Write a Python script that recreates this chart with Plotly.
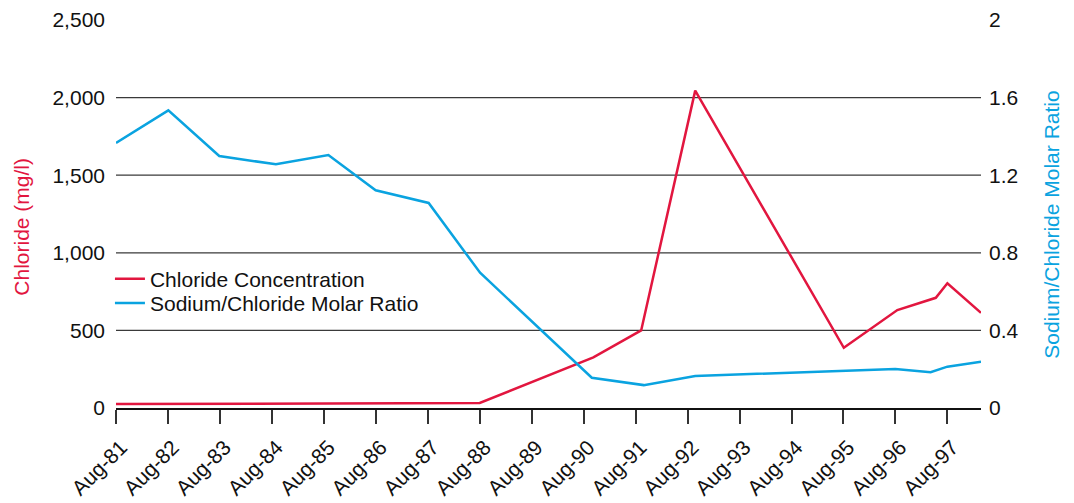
import plotly.graph_objects as go

# ---- data ----
tick_labels = ["Aug-81", "Aug-82", "Aug-83", "Aug-84", "Aug-85", "Aug-86", "Aug-87", "Aug-88",
               "Aug-89", "Aug-90", "Aug-91", "Aug-92", "Aug-93", "Aug-94", "Aug-95", "Aug-96", "Aug-97"]
tick_years = [1981.583 + i for i in range(len(tick_labels))]

chloride_x = [1981.583, 1983.58, 1985.58, 1988.583, 1990.77, 1991.69, 1992.73, 1995.59, 1996.62, 1997.36, 1997.583, 1998.23]
chloride_y = [25, 27, 29, 32, 326, 500, 2045, 388, 631, 710, 804, 613]

ratio_x = [1981.583, 1982.59, 1983.57, 1984.66, 1985.67, 1986.58, 1987.60, 1988.59, 1990.74, 1991.74,
           1992.73, 1995.58, 1996.58, 1997.26, 1997.583, 1998.23]
ratio_y = [1.366, 1.534, 1.299, 1.256, 1.304, 1.122, 1.057, 0.697, 0.156, 0.118,
           0.165, 0.190, 0.201, 0.184, 0.213, 0.238]

left_ticks = [0, 500, 1000, 1500, 2000, 2500]
right_ticks = [0, 0.4, 0.8, 1.2, 1.6, 2]
grid_vals = [500, 1000, 1500, 2000]

RED = "#E2163F"
BLUE = "#0AA3E0"
TEXT = "#111111"
FONT = "Liberation Sans, Arial, sans-serif"
FS = 21

fig = go.Figure()
fig.add_trace(go.Scatter(x=chloride_x, y=chloride_y, mode="lines", name="Chloride Concentration",
                         line=dict(color=RED, width=2.5), yaxis="y", legend="legend"))
fig.add_trace(go.Scatter(x=ratio_x, y=ratio_y, mode="lines", name="Sodium/Chloride Molar Ratio",
                         line=dict(color=BLUE, width=2.5), yaxis="y2", legend="legend2"))

for v in grid_vals:
    fig.add_shape(type="line", xref="paper", x0=0, x1=1, yref="y", y0=v, y1=v,
                  line=dict(color="#3a3a3a", width=1.2), layer="below")

fig.add_annotation(text="Chloride (mg/l)", xref="paper", yref="paper", x=-0.1095, y=0.468,
                   textangle=-90, showarrow=False, xanchor="center", yanchor="middle",
                   font=dict(color=RED, size=FS))
fig.add_annotation(text="Sodium/Chloride Molar Ratio", xref="paper", yref="paper", x=1.082, y=0.472,
                   textangle=-90, showarrow=False, xanchor="center", yanchor="middle",
                   font=dict(color=BLUE, size=FS))

legend_common = dict(xanchor="left", yanchor="middle", bgcolor="rgba(0,0,0,0)",
                     font=dict(size=FS, color=TEXT), itemwidth=30)

fig.update_layout(
    width=1066, height=495,
    margin=dict(l=108, r=93, t=11.5, b=95, autoexpand=False),
    paper_bgcolor="white", plot_bgcolor="white",
    font=dict(family=FONT, size=FS, color=TEXT),
    showlegend=True,
    legend=dict(x=-0.007, y=0.332, **legend_common),
    legend2=dict(x=-0.007, y=0.270, **legend_common),
    xaxis=dict(
        range=[chloride_x[0], chloride_x[-1]],
        tickmode="array", tickvals=tick_years, ticktext=tick_labels,
        tickangle=-45, ticks="outside", ticklen=14, tickwidth=1.5, tickcolor="#333333",
        ticklabelstandoff=3, ticklabelshift=5, automargin=False,
        showgrid=False, zeroline=False, showline=True, linecolor="#111111", linewidth=1.5,
        tickfont=dict(size=FS),
    ),
    yaxis=dict(
        range=[0, 2500], tickmode="array", tickvals=left_ticks, tickformat=",",
        showgrid=False, zeroline=False, showline=False, ticks="", automargin=False,
        ticklabelstandoff=10,
    ),
    yaxis2=dict(
        range=[0, 2], tickmode="array", tickvals=right_ticks,
        ticktext=[f"{t:g}" for t in right_ticks],
        overlaying="y", side="right", automargin=False,
        showgrid=False, zeroline=False, showline=False, ticks="",
        ticklabelstandoff=7,
    ),
)

fig.write_html("out.html")
